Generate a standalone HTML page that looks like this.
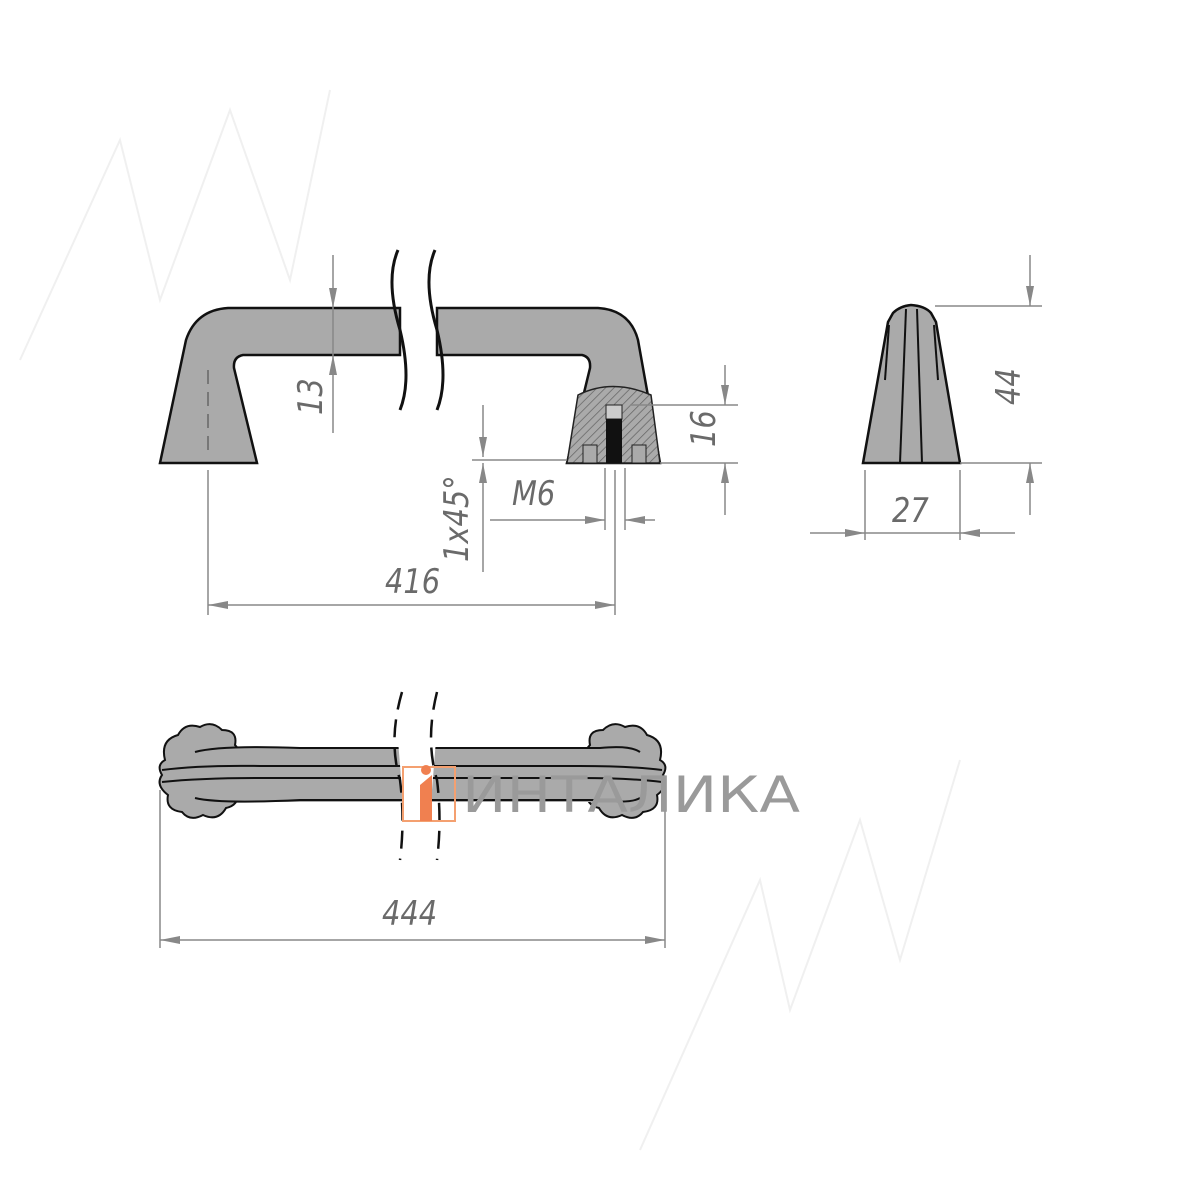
<!DOCTYPE html>
<html><head><style>body{margin:0;background:#fff}svg{display:block}text{font-family:"DejaVu Sans","Liberation Sans",sans-serif;fill:#6a6a6a;font-style:italic}</style></head>
<body>
<svg width="1200" height="1200" viewBox="0 0 1200 1200" xmlns="http://www.w3.org/2000/svg">
<defs>
<marker id="a" viewBox="0 0 20 8" refX="20" refY="4" markerWidth="20" markerHeight="8" markerUnits="userSpaceOnUse" orient="auto-start-reverse"><path d="M0,0L20,4L0,8z" fill="#888"/></marker>
<pattern id="h" width="6" height="6" patternUnits="userSpaceOnUse" patternTransform="rotate(45)"><rect width="6" height="6" fill="#aaa"/><line x1="0" y1="0" x2="0" y2="6" stroke="#666" stroke-width="1.5"/></pattern>
</defs>
<g stroke="#f0f0f0" stroke-width="2" fill="none">
<polyline points="20,360 120,140 160,300 230,110 290,280 330,90"/>
<polyline points="640,1150 760,880 790,1010 860,820 900,960 960,760"/>
</g>
<path d="M160,463 L186,340 Q196,310 228,308 L400,308 L400,355 L243,355 Q233,357 234,368 L257,463 Z" fill="#aaa" stroke="#111" stroke-width="2.5"/>
<path d="M437,308 L598,308 Q630,310 638,340 L660,463 L567,463 L590,368 Q591,357 582,355 L437,355 Z" fill="#aaa" stroke="#111" stroke-width="2.5"/>
<path d="M567,463 L578,395 Q612,378 651,395 L660,463 Z" fill="url(#h)" stroke="#222" stroke-width="1.5"/>
<rect x="606" y="405" width="16" height="14" fill="#ccc" stroke="#222"/>
<rect x="606" y="419" width="16" height="44" fill="#111"/>
<rect x="583" y="445" width="14" height="18" fill="#aaa" stroke="#222"/>
<rect x="632" y="445" width="14" height="18" fill="#aaa" stroke="#222"/>
<path d="M398,250 Q385,280 400,330 Q412,380 400,410" fill="none" stroke="#111" stroke-width="3"/>
<path d="M435,250 Q422,280 437,330 Q449,380 437,410" fill="none" stroke="#111" stroke-width="3"/>
<line x1="208" y1="370" x2="208" y2="455" stroke="#444" stroke-dasharray="14,8"/>
<path d="M863,463 L888,322 L893,313 Q900,306 911,305 Q925,306 931,313 L936,322 L960,463 Z" fill="#aaa" stroke="#111" stroke-width="2.5"/>
<g stroke="#111" stroke-width="2" fill="none"><line x1="906" y1="309" x2="900" y2="463"/><line x1="917" y1="309" x2="922" y2="463"/><line x1="889" y1="325" x2="885" y2="380"/><line x1="934" y1="325" x2="938" y2="380"/></g>
<g stroke="#888" stroke-width="1.5" fill="none">
<line x1="333" y1="255" x2="333" y2="308" marker-end="url(#a)"/><line x1="333" y1="433" x2="333" y2="355" marker-end="url(#a)"/><line x1="333" y1="308" x2="333" y2="355"/>
<line x1="630" y1="405" x2="738" y2="405"/><line x1="660" y1="463" x2="738" y2="463"/>
<line x1="725" y1="365" x2="725" y2="405" marker-end="url(#a)"/><line x1="725" y1="515" x2="725" y2="463" marker-end="url(#a)"/>
<line x1="935" y1="306" x2="1042" y2="306"/><line x1="960" y1="463" x2="1042" y2="463"/>
<line x1="1030" y1="255" x2="1030" y2="306" marker-end="url(#a)"/><line x1="1030" y1="515" x2="1030" y2="463" marker-end="url(#a)"/>
<line x1="865" y1="470" x2="865" y2="540"/><line x1="960" y1="470" x2="960" y2="540"/>
<line x1="810" y1="533" x2="865" y2="533" marker-end="url(#a)"/><line x1="1015" y1="533" x2="960" y2="533" marker-end="url(#a)"/><line x1="865" y1="533" x2="960" y2="533"/>
<line x1="472" y1="460" x2="567" y2="460"/>
<line x1="483" y1="405" x2="483" y2="457" marker-end="url(#a)"/><line x1="483" y1="572" x2="483" y2="463" marker-end="url(#a)"/>
<line x1="605" y1="468" x2="605" y2="530"/><line x1="625" y1="468" x2="625" y2="530"/>
<line x1="490" y1="520" x2="605" y2="520" marker-end="url(#a)"/><line x1="655" y1="520" x2="625" y2="520" marker-end="url(#a)"/>
<line x1="208" y1="470" x2="208" y2="615"/><line x1="615" y1="470" x2="615" y2="615"/>
<line x1="208" y1="605" x2="615" y2="605" marker-start="url(#a)" marker-end="url(#a)"/>
<line x1="160" y1="790" x2="160" y2="948"/><line x1="665" y1="790" x2="665" y2="948"/>
<line x1="160" y1="940" x2="665" y2="940" marker-start="url(#a)" marker-end="url(#a)"/>
</g>
<g font-size="34">
<text transform="translate(322,415) rotate(-90) scale(0.85,1)">13</text>
<text transform="translate(715,447) rotate(-90) scale(0.85,1)">16</text>
<text transform="translate(1020,405) rotate(-90) scale(0.85,1)">44</text>
<text transform="translate(892,522) scale(0.85,1)">27</text>
<text transform="translate(512,505) scale(0.85,1)">M6</text>
<text transform="translate(468,562) rotate(-90) scale(0.85,1)">1x45°</text>
<text transform="translate(385,593) scale(0.85,1)">416</text>
<text transform="translate(382,925) scale(0.85,1)">444</text>
</g>
<g fill="#aaa" stroke="#111" stroke-width="2">
<path d="M165,760 Q160,740 178,735 Q185,722 200,727 Q212,720 222,730 Q238,730 235,745 Q245,755 240,768 Q245,782 238,790 Q240,805 226,808 Q218,822 203,815 Q190,822 182,812 Q165,810 168,795 Q155,785 162,775 Q156,765 165,760Z"/>
<path d="M660,760 Q665,740 647,735 Q640,722 625,727 Q613,720 603,730 Q587,730 590,745 Q580,755 585,768 Q580,782 587,790 Q585,805 599,808 Q607,822 622,815 Q635,822 643,812 Q660,810 657,795 Q670,785 663,775 Q669,765 660,760Z"/>
<rect x="225" y="747" width="375" height="55" stroke="none"/>
</g>
<g stroke="#111" stroke-width="2" fill="none">
<path d="M195,752 Q220,745 300,748 L600,748 Q630,745 640,752"/>
<path d="M162,770 Q200,765 260,766 L580,766 Q630,766 662,770"/>
<path d="M162,782 Q200,778 260,778 L580,778 Q630,778 662,782"/>
<path d="M195,798 Q220,804 300,800 L600,800 Q630,804 640,798"/>
</g>
<path d="M398,740 L436,740 L430,815 L404,815 Z" fill="#fff"/>
<g stroke="#111" stroke-width="2.5" fill="none" stroke-dasharray="18,10">
<path d="M402,692 Q388,740 400,780 Q405,820 400,860"/><path d="M437,692 Q425,740 437,780 Q442,820 437,860"/>
</g>
<rect x="403" y="767" width="52" height="54" fill="none" stroke="#f4a070" stroke-width="2"/>
<path d="M420,785 L432,775 L432,821 L420,821Z" fill="#f08050"/>
<circle cx="426" cy="770" r="5" fill="#f08050"/>
<text x="462" y="812" font-size="50" textLength="338" lengthAdjust="spacingAndGlyphs" style="font-style:normal;fill:#9a9a9a">ИНТАЛИКА</text>
</svg>
</body></html>
